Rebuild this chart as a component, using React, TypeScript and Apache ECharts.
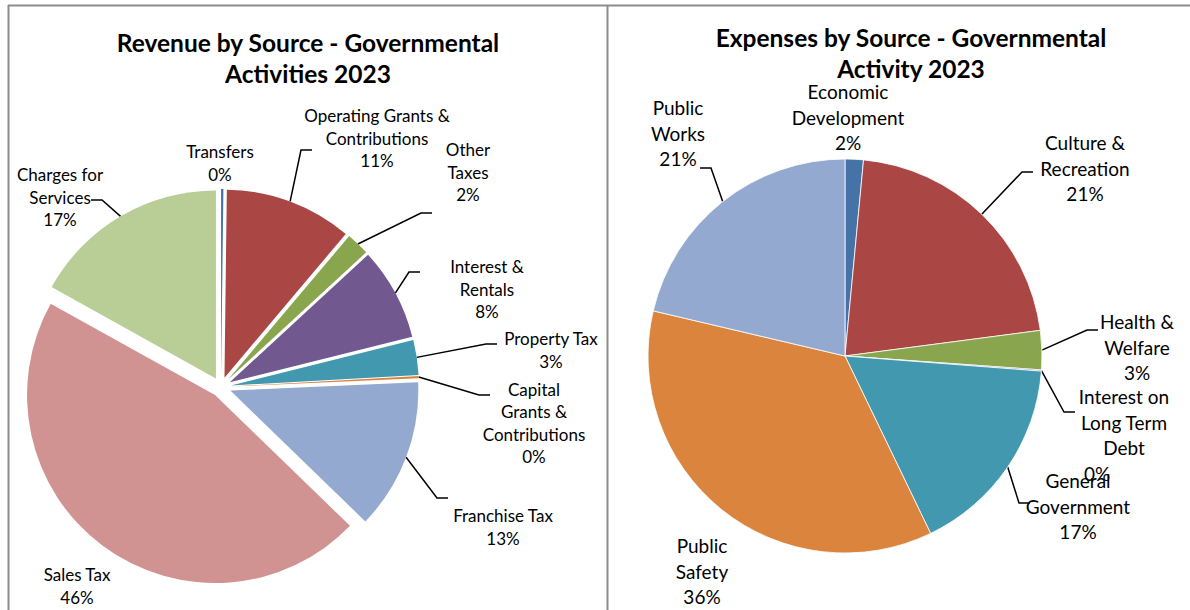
import React, { useEffect, useRef } from 'react';
import * as echarts from 'echarts';

// ---------------- data ----------------
const revenueCategories = [
  'Transfers',
  'Operating Grants & Contributions',
  'Other Taxes',
  'Interest & Rentals',
  'Property Tax',
  'Capital Grants & Contributions',
  'Franchise Tax',
  'Sales Tax',
  'Charges for Services',
];
const revenueLabelText = [
  'Transfers',
  'Operating Grants &\nContributions',
  'Other\nTaxes',
  'Interest &\nRentals',
  'Property Tax',
  'Capital\nGrants &\nContributions',
  'Franchise Tax',
  'Sales Tax',
  'Charges for\nServices',
];
const revenueValues = [0.2, 11, 2, 8, 3, 0.2, 13, 46, 17];
const revenueColors = ['#4572A7', '#AA4643', '#89A54E', '#71588F', '#4198AF', '#DB843D', '#93A9CF', '#D19392', '#B9CD96'];

const expenseCategories = [
  'Economic Development',
  'Culture & Recreation',
  'Health & Welfare',
  'Interest on Long Term Debt',
  'General Government',
  'Public Safety',
  'Public Works',
];
const expenseLabelText = [
  'Economic\nDevelopment',
  'Culture &\nRecreation',
  'Health &\nWelfare',
  'Interest on\nLong Term\nDebt',
  'General\nGovernment',
  'Public\nSafety',
  'Public\nWorks',
];
const expenseValues = [1.5, 21.4, 3.2, 0.1, 16.6, 35.8, 21.3];
const expenseColors = ['#4572A7', '#AA4643', '#89A54E', '#71588F', '#4198AF', '#DB843D', '#93A9CF'];

const revenueTitle = 'Revenue by Source - Governmental\nActivities 2023';
const expenseTitle = 'Expenses by Source - Governmental\nActivity 2023';

// ---------------- layout ----------------
const FONT = 'Lato, "Open Sans", "Noto Sans", sans-serif';
const LEFT = { cx: 221, cy: 387, r: 188, explode: 10, fontSize: 17, lineHeight: 22.5 };
const RIGHT = { cx: 845, cy: 356, r: 197, fontSize: 19, lineHeight: 25.7 };

// label block centre and leader-line end, as offsets from the pie centre
type LabelPos = [number, number, [number, number] | null];
const revenueLabelPos: LabelPos[] = [
  [-1, -224, null],
  [156, -249, [91, -237]],
  [247, -215, [211, -174]],
  [266, -98, [199, -115]],
  [330, -37, [276, -43]],
  [313, 36, [269, 8]],
  [282, 140, [227, 111]],
  [-144, 199, null],
  [-161, -190, [-130, -187]],
];
const expenseLabelPos: LabelPos[] = [
  [3, -239, null],
  [240, -188, [188, -184]],
  [292, -9, [253, -26]],
  [279, 79, [230, 56]],
  [233, 150, [185, 147]],
  [-143, 215, null],
  [-167, -223, [-145, -188]],
];

function layoutLabel(p: any, pie: { cx: number; cy: number }, table: LabelPos[]) {
  const cfg = table[p.dataIndex];
  if (!cfg) return {};
  const out: any = {
    x: pie.cx + cfg[0],
    y: pie.cy + cfg[1],
    align: 'center',
    verticalAlign: 'middle',
  };
  const end = cfg[2];
  if (end && p.labelLinePoints && p.labelLinePoints.length) {
    const ex = pie.cx + end[0];
    const ey = pie.cy + end[1];
    const elbowX = ex + (end[0] > 0 ? -11 : 11);
    out.labelLinePoints = [p.labelLinePoints[0], [elbowX, ey], [ex, ey]];
  }
  return out;
}

function baseLabel(pie: { fontSize: number; lineHeight: number }) {
  return {
    position: 'outside',
    color: '#000',
    fontFamily: FONT,
    fontSize: pie.fontSize,
    lineHeight: pie.lineHeight,
    overflow: 'none',
    alignTo: 'none',
  };
}

function buildRevenueSeries() {
  const total = revenueValues.reduce((a, b) => a + b, 0);
  let cum = 0;
  return revenueValues.map((v, i) => {
    const mid = ((cum + v / 2) / total) * Math.PI * 2;
    cum += v;
    const center = [LEFT.cx + LEFT.explode * Math.sin(mid), LEFT.cy - LEFT.explode * Math.cos(mid)];
    return {
      type: 'pie',
      name: 'Revenue',
      center,
      radius: LEFT.r,
      startAngle: 90,
      clockwise: true,
      avoidLabelOverlap: false,
      silent: true,
      emphasis: { disabled: true },
      label: {
        ...baseLabel(LEFT),
        formatter: (p: any) => `${revenueLabelText[p.dataIndex]}\n${Math.round(p.percent)}%`,
      },
      labelLine: { lineStyle: { color: '#000', width: 1.5 }, length: 20, length2: 10 },
      labelLayout: (p: any) => layoutLabel(p, LEFT, revenueLabelPos),
      data: revenueValues.map((val, j) => ({
        name: revenueCategories[j],
        value: val,
        itemStyle: { color: j === i ? revenueColors[j] : 'rgba(0,0,0,0)', borderWidth: 0 },
        label: { show: j === i },
        labelLine: { show: j === i && revenueLabelPos[j][2] != null },
      })),
    };
  });
}

function buildExpenseSeries() {
  return {
    type: 'pie',
    name: 'Expenses',
    center: [RIGHT.cx, RIGHT.cy],
    radius: RIGHT.r,
    startAngle: 90,
    clockwise: true,
    avoidLabelOverlap: false,
    silent: true,
    emphasis: { disabled: true },
    itemStyle: { borderColor: '#ffffff', borderWidth: 0.8 },
    label: {
      ...baseLabel(RIGHT),
      formatter: (p: any) => {
        const pct = Math.round(p.percent);
        if (p.dataIndex === 3) return `${expenseLabelText[p.dataIndex]}\n{shift|${pct}%}`;
        return `${expenseLabelText[p.dataIndex]}\n${pct}%`;
      },
      rich: {
        shift: {
          padding: [0, 54, 0, 0],
          fontSize: RIGHT.fontSize,
          lineHeight: RIGHT.lineHeight,
          fontFamily: FONT,
          color: '#000',
        },
      },
    },
    labelLine: { lineStyle: { color: '#000', width: 1.5 }, length: 20, length2: 10 },
    labelLayout: (p: any) => layoutLabel(p, RIGHT, expenseLabelPos),
    data: expenseValues.map((val, j) => ({
      name: expenseCategories[j],
      value: val,
      itemStyle: { color: expenseColors[j] },
      labelLine: { show: expenseLabelPos[j][2] != null },
    })),
  };
}

export default function App() {
  const ref = useRef<HTMLDivElement>(null);
  useEffect(() => {
    if (!ref.current) return;
    const chart = echarts.init(ref.current, undefined, { renderer: 'svg' });
    const frame = '#8c8c8c';
    const titleStyle = {
      fill: '#000',
      fontFamily: FONT,
      fontSize: 24.5,
      fontWeight: 'bold',
      lineHeight: 31,
      align: 'center',
      verticalAlign: 'middle',
      textAlign: 'center',
      textVerticalAlign: 'middle',
    };
    chart.setOption({
      animation: false,
      backgroundColor: '#ffffff',
      graphic: [
        { type: 'line', shape: { x1: 8, y1: 5.5, x2: 1190, y2: 5.5 }, style: { stroke: frame, lineWidth: 2 }, silent: true },
        { type: 'line', shape: { x1: 8.5, y1: 5, x2: 8.5, y2: 610 }, style: { stroke: frame, lineWidth: 2 }, silent: true },
        { type: 'line', shape: { x1: 607.5, y1: 5, x2: 607.5, y2: 610 }, style: { stroke: frame, lineWidth: 2 }, silent: true },
        { type: 'text', x: 308, y: 57.5, style: { ...titleStyle, text: revenueTitle }, silent: true },
        { type: 'text', x: 911, y: 53, style: { ...titleStyle, text: expenseTitle }, silent: true },
      ],
      series: [...buildRevenueSeries(), buildExpenseSeries()],
    });
    return () => chart.dispose();
  }, []);
  return (
    <div
      ref={ref}
      style={{ position: 'absolute', left: 0, top: 0, width: 1190, height: 610, background: '#fff' }}
    />
  );
}
